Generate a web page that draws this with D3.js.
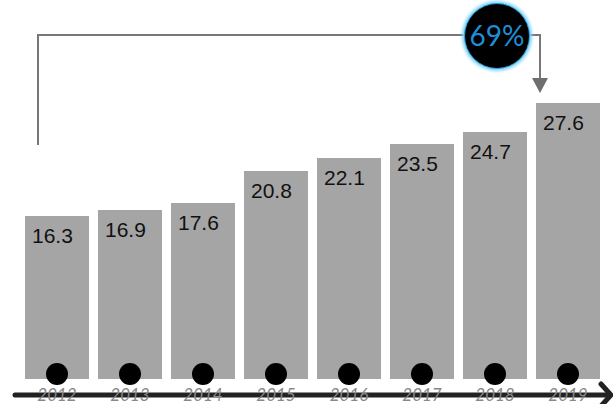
<!DOCTYPE html>
<html>
<head>
<meta charset="utf-8">
<script src="https://cdn.jsdelivr.net/npm/d3@7/dist/d3.min.js"></script>
<style>
  html, body { margin: 0; padding: 0; background: #fff; }
  svg { display: block; }
</style>
</head>
<body>
<script>
// Yearly values
const years = ["2012", "2013", "2014", "2015", "2016", "2017", "2018", "2019"];
const values = [16.3, 16.9, 17.6, 20.8, 22.1, 23.5, 24.7, 27.6];

const W = 613, H = 404;
const svg = d3.select("body").append("svg").attr("width", W).attr("height", H);

const defs = svg.append("defs");
defs.append("filter").attr("id", "glow")
  .attr("x", "-30%").attr("y", "-30%").attr("width", "160%").attr("height", "160%")
  .append("feGaussianBlur").attr("stdDeviation", 1.6);

const x = d3.scaleBand().domain(years).range([25, 600]).paddingInner(0.1233).paddingOuter(0);
const y = d3.scaleLinear().domain([0, 10]).range([379, 279]);

const data = years.map((yr, i) => ({ year: yr, value: values[i] }));

// Bars
svg.append("g").selectAll("rect").data(data).join("rect")
  .attr("x", d => x(d.year))
  .attr("y", d => y(d.value))
  .attr("width", x.bandwidth())
  .attr("height", d => y(0) - y(d.value))
  .attr("fill", "#a5a5a5");

// Value labels inside the top of each bar
svg.append("g").selectAll("text").data(data).join("text")
  .attr("x", d => x(d.year) + 7)
  .attr("y", d => y(d.value) + 27)
  .attr("font-family", "'Liberation Sans', Arial, sans-serif")
  .attr("font-size", 21)
  .attr("fill", "#111")
  .text(d => d.value.toFixed(1));

// Timeline axis with chevron arrow
const axisY = 395;
svg.append("line")
  .attr("x1", 15).attr("x2", 609).attr("y1", axisY).attr("y2", axisY)
  .attr("stroke", "#222").attr("stroke-width", 5).attr("stroke-linecap", "round");
svg.append("polyline")
  .attr("points", `${601},${axisY - 11} ${611},${axisY} ${601},${axisY + 11}`)
  .attr("fill", "none").attr("stroke", "#222").attr("stroke-width", 5)
  .attr("stroke-linecap", "round").attr("stroke-linejoin", "miter");

// Dots on each bar base
svg.append("g").selectAll("circle").data(data).join("circle")
  .attr("cx", d => x(d.year) + x.bandwidth() / 2)
  .attr("cy", 374)
  .attr("r", 11)
  .attr("fill", "#000");

// Year labels over the timeline
svg.append("g").selectAll("text").data(data).join("text")
  .attr("x", d => x(d.year) + x.bandwidth() / 2)
  .attr("y", 401)
  .attr("text-anchor", "middle")
  .attr("font-family", "Lato, 'Open Sans', sans-serif")
  .attr("font-weight", 400)
  .attr("font-style", "italic")
  .attr("font-size", 17)
  .attr("fill", "#888")
  .text(d => d.year);

// Growth bracket from first to last year
const first = data[0], last = data[data.length - 1];
const growth = Math.round((last.value - first.value) / first.value * 100);
const lx = x(first.year) + 13;
const rx = x(last.year) + 4;
const topY = 35;
const tipY = y(last.value) - 10;

svg.append("path")
  .attr("d", `M${lx},${y(first.value) - 71} V${topY} H${rx} V${tipY - 14}`)
  .attr("fill", "none").attr("stroke", "#777").attr("stroke-width", 2);
svg.append("path")
  .attr("d", `M${rx - 8},${tipY - 15} L${rx + 8},${tipY - 15} L${rx},${tipY} Z`)
  .attr("fill", "#6f6f6f");

// Growth badge
const cx = rx - 43, cy = 36;
svg.append("circle").attr("cx", cx).attr("cy", cy).attr("r", 35)
  .attr("fill", "#7fd3f7").attr("filter", "url(#glow)");
svg.append("circle").attr("cx", cx).attr("cy", cy).attr("r", 32.5)
  .attr("fill", "#000").attr("stroke", "#2aa4e6").attr("stroke-width", 1);
svg.append("text")
  .attr("x", cx).attr("y", cy + 9.5)
  .attr("text-anchor", "middle")
  .attr("font-family", "Lato, 'Open Sans', sans-serif")
  .attr("font-weight", 400)
  .attr("font-size", 28)
  .attr("fill", "#1e8fd6")
  .text(growth + "%");
</script>
</body>
</html>
